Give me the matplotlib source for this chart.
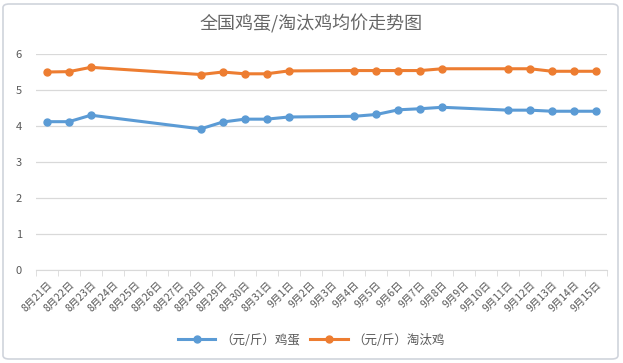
import numpy as np
import matplotlib
matplotlib.use("Agg")
import matplotlib.pyplot as plt
from matplotlib.patches import FancyBboxPatch

plt.rcParams['font.family'] = ['Noto Sans CJK SC', 'DejaVu Sans']

# categories on the x axis
dates = ["8月%d日" % d for d in range(21, 32)] + ["9月%d日" % d for d in range(1, 16)]

# days that have a value (index into dates)
idx = [0, 1, 2, 7, 8, 9, 10, 11, 14, 15, 16, 17, 18, 21, 22, 23, 24, 25]
egg = [4.12, 4.12, 4.30, 3.92, 4.11, 4.19, 4.19, 4.25, 4.27, 4.32,
       4.45, 4.48, 4.52, 4.44, 4.44, 4.41, 4.41, 4.41]
hen = [5.50, 5.51, 5.63, 5.43, 5.50, 5.45, 5.45, 5.53, 5.54, 5.54,
       5.54, 5.54, 5.59, 5.59, 5.59, 5.52, 5.52, 5.52]

txt = '#595959'
grid = '#D9D9D9'

fig = plt.figure(figsize=(6.23, 3.63), dpi=100)
ax = fig.add_axes([36/623, 1 - 270/363, 571/623, 216/363])

ax.plot(idx, egg, color='#5B9BD5', lw=2.2, marker='o', ms=5, label='（元/斤）鸡蛋')
ax.plot(idx, hen, color='#ED7D31', lw=2.2, marker='o', ms=5, label='（元/斤）淘汰鸡')

ax.set_xlim(-0.5, len(dates) - 0.5)
ax.set_ylim(0, 6)
ax.set_yticks(range(7))
ax.yaxis.grid(True, color=grid, lw=0.9)
ax.set_axisbelow(True)
for s in ['top', 'right', 'left']:
    ax.spines[s].set_visible(False)
ax.spines['bottom'].set_color(grid)

ax.set_xticks(range(len(dates)))
ax.set_xticklabels(dates, rotation=45, ha='right', rotation_mode='anchor',
                   fontsize=7.5, color=txt)
ax.set_xticks(np.arange(-0.5, len(dates)), minor=True)
ax.tick_params(axis='x', which='major', length=0, pad=7)
ax.tick_params(axis='x', which='minor', length=4, color=grid)
ax.tick_params(axis='y', length=0, labelsize=8, colors=txt, pad=10)

fig.text(311/623, 1 - 24/363, '全国鸡蛋/淘汰鸡均价走势图', ha='center', va='center',
         fontsize=13, color='#666666')

leg = fig.legend(loc='center', bbox_to_anchor=(0.5, 1 - 340/363), ncol=2,
                 frameon=False, fontsize=9, handlelength=3, columnspacing=0.8,
                 handletextpad=0.4)
for t in leg.get_texts():
    t.set_color(txt)

border = FancyBboxPatch((3/623, 4/363), 615/623, 355/363, boxstyle='round,pad=0,rounding_size=0.01',
                        transform=fig.transFigure, fill=False, ec='#D0D4DC', lw=1.2)
fig.patches.append(border)

fig.savefig('out.png', dpi=100)
